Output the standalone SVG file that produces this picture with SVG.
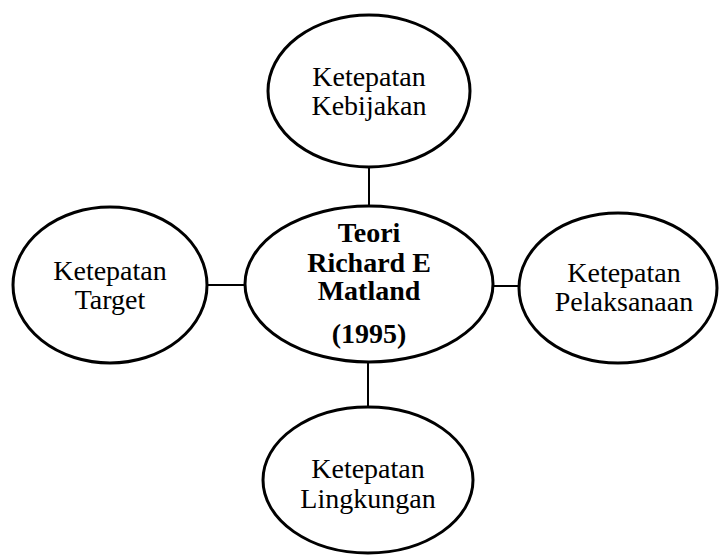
<svg xmlns="http://www.w3.org/2000/svg" width="720" height="556" viewBox="0 0 720 556">
<style>
.node ellipse{fill:#fff;stroke:#000;stroke-width:3}
.lbl{font-family:"Liberation Serif","Times New Roman",serif;font-size:28px;fill:#000;text-anchor:middle}
.bold{font-weight:bold}
.conn line{stroke:#000;stroke-width:2}
</style>
<rect width="720" height="556" fill="#fff"/>
<g id="connectors" class="conn">
<line x1="369" y1="166" x2="369" y2="207"/>
<line x1="206" y1="285" x2="246" y2="285"/>
<line x1="492" y1="286" x2="520" y2="286"/>
<line x1="368" y1="361" x2="368" y2="409"/>
</g>
<g id="kebijakan" class="node">
<ellipse cx="369" cy="91" rx="101" ry="76"/>
<text class="lbl" x="369" y="86">Ketepatan</text>
<text class="lbl" x="369" y="115">Kebijakan</text>
</g>
<g id="center" class="node">
<ellipse cx="369" cy="284" rx="124" ry="78"/>
<text class="lbl bold" x="369" y="242">Teori</text>
<text class="lbl bold" x="369" y="272">Richard E</text>
<text class="lbl bold" x="369" y="300">Matland</text>
<text class="lbl bold" x="369" y="343">(1995)</text>
</g>
<g id="target" class="node">
<ellipse cx="110" cy="285" rx="97" ry="78"/>
<text class="lbl" x="110" y="280">Ketepatan</text>
<text class="lbl" x="110" y="309">Target</text>
</g>
<g id="pelaksanaan" class="node">
<ellipse cx="618" cy="288" rx="99" ry="75"/>
<text class="lbl" x="624" y="282">Ketepatan</text>
<text class="lbl" x="624" y="311">Pelaksanaan</text>
</g>
<g id="lingkungan" class="node">
<ellipse cx="368" cy="480" rx="105" ry="73"/>
<text class="lbl" x="368" y="478">Ketepatan</text>
<text class="lbl" x="368" y="508">Lingkungan</text>
</g>
</svg>
